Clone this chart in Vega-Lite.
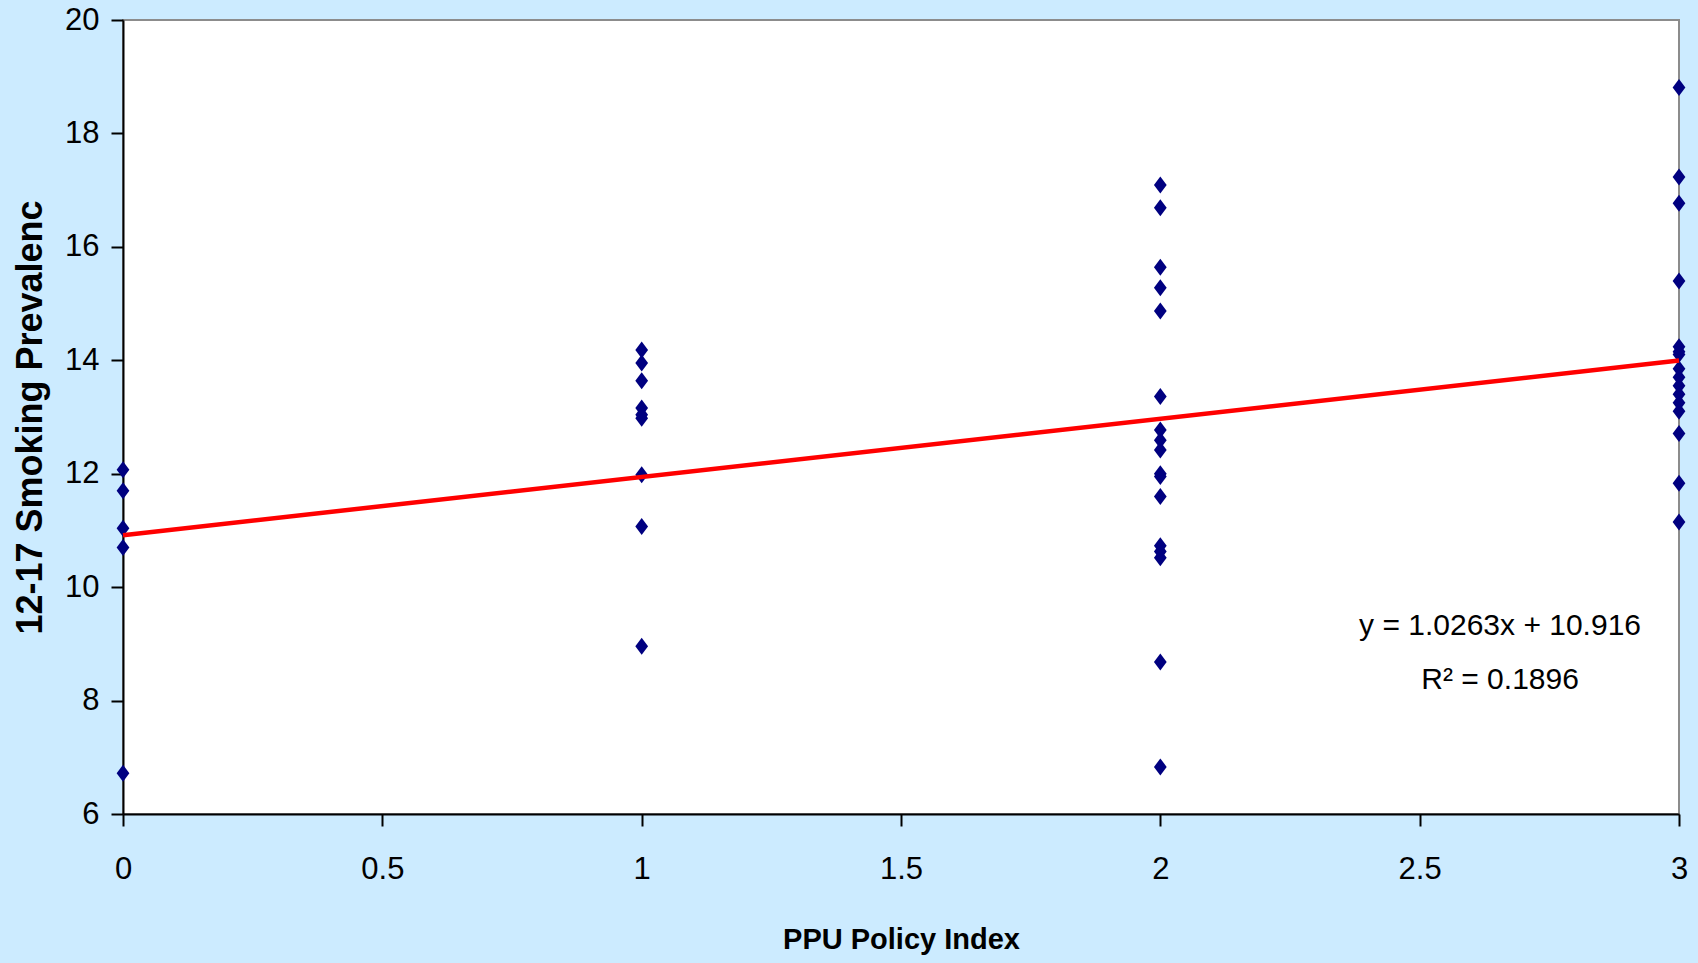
{
  "$schema": "https://vega.github.io/schema/vega-lite/v6.json",
  "width": 1556,
  "height": 794,
  "autosize": {"type": "none"},
  "padding": {"left": 123, "top": 20, "right": 19, "bottom": 149},
  "background": "#CCEBFF",
  "config": {
    "view": {"fill": "white", "stroke": "#8C8C8C", "strokeWidth": 2},
    "axis": {
      "grid": false,
      "domainColor": "black",
      "domainWidth": 2,
      "tickColor": "black",
      "tickWidth": 2,
      "tickSize": 12,
      "labelFont": "Liberation Sans, Arial, sans-serif",
      "labelFontSize": 31,
      "labelColor": "black",
      "labelFlush": false,
      "titleColor": "black",
      "format": "~g"
    }
  },
  "datasets": {
    "pts": [
      {"index": 0, "prev": 12.07}, {"index": 0, "prev": 11.70}, {"index": 0, "prev": 11.04}, {"index": 0, "prev": 10.70}, {"index": 0, "prev": 6.72},
      {"index": 1, "prev": 14.18}, {"index": 1, "prev": 13.95}, {"index": 1, "prev": 13.64}, {"index": 1, "prev": 13.16}, {"index": 1, "prev": 13.04}, {"index": 1, "prev": 12.98}, {"index": 1, "prev": 11.98}, {"index": 1, "prev": 11.07}, {"index": 1, "prev": 8.96},
      {"index": 2, "prev": 17.09}, {"index": 2, "prev": 16.69}, {"index": 2, "prev": 15.64}, {"index": 2, "prev": 15.28}, {"index": 2, "prev": 14.87}, {"index": 2, "prev": 13.36}, {"index": 2, "prev": 12.77}, {"index": 2, "prev": 12.59}, {"index": 2, "prev": 12.42}, {"index": 2, "prev": 12.0}, {"index": 2, "prev": 11.95}, {"index": 2, "prev": 11.60}, {"index": 2, "prev": 10.73}, {"index": 2, "prev": 10.63}, {"index": 2, "prev": 10.52}, {"index": 2, "prev": 8.68}, {"index": 2, "prev": 6.83},
      {"index": 3, "prev": 18.81}, {"index": 3, "prev": 17.23}, {"index": 3, "prev": 16.77}, {"index": 3, "prev": 15.40}, {"index": 3, "prev": 14.24}, {"index": 3, "prev": 14.15}, {"index": 3, "prev": 14.1}, {"index": 3, "prev": 13.85}, {"index": 3, "prev": 13.7}, {"index": 3, "prev": 13.55}, {"index": 3, "prev": 13.4}, {"index": 3, "prev": 13.25}, {"index": 3, "prev": 13.1}, {"index": 3, "prev": 12.71}, {"index": 3, "prev": 11.83}, {"index": 3, "prev": 11.15}
    ],
    "trend": [
      {"index": 0, "prev": 10.916},
      {"index": 3, "prev": 13.995}
    ],
    "labels": [
      {"index": 2.655, "prev": 9.31, "text": "y = 1.0263x + 10.916"},
      {"index": 2.655, "prev": 8.36, "text": "R² = 0.1896"}
    ]
  },
  "layer": [
    {
      "data": {"name": "pts"},
      "mark": {"type": "point", "shape": "M0,-1L0.75,0L0,1L-0.75,0Z", "filled": true, "size": 289, "color": "#000080", "opacity": 1, "clip": false},
      "encoding": {
        "x": {
          "field": "index", "type": "quantitative",
          "scale": {"domain": [0, 3], "nice": false, "zero": false},
          "axis": {
            "title": "PPU Policy Index",
            "values": [0, 0.5, 1, 1.5, 2, 2.5, 3],
            "labelPadding": 28,
            "titleFont": "Liberation Sans, Arial, sans-serif",
            "titleFontSize": 29,
            "titleFontWeight": "bold",
            "titleBaseline": "alphabetic",
            "titleY": 134
          }
        },
        "y": {
          "field": "prev", "type": "quantitative",
          "scale": {"domain": [6, 20], "nice": false, "zero": false},
          "axis": {
            "title": "12-17 Smoking Prevalenc",
            "values": [6, 8, 10, 12, 14, 16, 18, 20],
            "labelPadding": 12,
            "titleFont": "Liberation Sans, Arial, sans-serif",
            "titleFontSize": 36,
            "titleFontWeight": "bold",
            "titleAngle": -90,
            "titleAlign": "center",
            "titleBaseline": "middle",
            "titleX": -93,
            "titleY": 397
          }
        }
      }
    },
    {
      "data": {"name": "trend"},
      "mark": {"type": "line", "color": "#FF0000", "strokeWidth": 4.5},
      "encoding": {
        "x": {"field": "index", "type": "quantitative"},
        "y": {"field": "prev", "type": "quantitative"}
      }
    },
    {
      "data": {"name": "labels"},
      "mark": {"type": "text", "font": "Liberation Sans, Arial, sans-serif", "fontSize": 30, "color": "black", "align": "center", "baseline": "middle"},
      "encoding": {
        "x": {"field": "index", "type": "quantitative"},
        "y": {"field": "prev", "type": "quantitative"},
        "text": {"field": "text", "type": "nominal"}
      }
    }
  ]
}
